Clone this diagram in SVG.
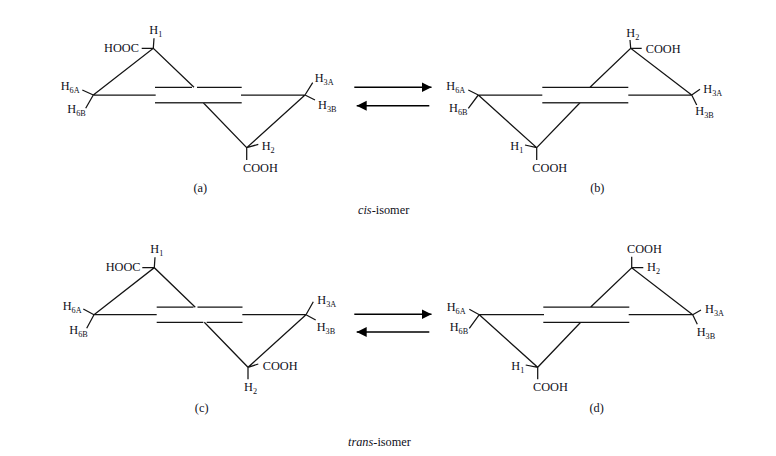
<svg xmlns="http://www.w3.org/2000/svg" width="776" height="456" viewBox="0 0 776 456">
<style>
text{font-family:"Liberation Serif","Times New Roman",serif;font-size:12.3px;fill:#10101a}
.s{font-size:8.2px}
.c{text-anchor:middle}
path{fill:none;stroke:#141414;stroke-width:1.25}
.d{stroke:#333;stroke-width:1.5}
.a{stroke:#000;stroke-width:1.5}
.h{fill:#000;stroke:none}
</style>
<defs>
<marker id="ah" markerUnits="userSpaceOnUse" markerWidth="11" markerHeight="11" refX="10" refY="5.500" orient="auto-start-reverse"><path class="h" d="M0 0.500L10 5.500L0 10.500L0 0.500Z"/></marker>
</defs>
<rect width="776" height="456" fill="#fff"/>
<g id="isomer-a">
<path d="M93.3 95L153.3 48.3L194 87.3M203.3 102.7L246.7 147.7L305 95M93.3 95H155.7M241 95H305M155 87.3H192M197 87.3H241.7M153.3 48.3L154 38.3M153.3 48.3H141.7M93.3 95L82.3 90M93.3 95L85.7 108.3M305 95L312.7 82.7M305 95L315 100M246.7 147.7L258.3 144.3M246.7 147.7V160"/>
<path class="d" d="M155 102.7H241.7"/>
<text x="104" y="52">HOOC</text>
<text x="149.300" y="34">H<tspan class="s" dy="3">1</tspan></text>
<text x="60.700" y="90">H<tspan class="s" dy="3">6A</tspan></text>
<text x="67.300" y="112.500">H<tspan class="s" dy="3">6B</tspan></text>
<text x="314.700" y="82.300">H<tspan class="s" dy="3">3A</tspan></text>
<text x="318" y="109">H<tspan class="s" dy="3">3B</tspan></text>
<text x="261.700" y="150">H<tspan class="s" dy="3">2</tspan></text>
<text x="243" y="172">COOH</text>
<text class="c" x="200.300" y="192">(a)</text>
</g>
<g id="isomer-b">
<path d="M478.300 95L536.700 147.700L580 102.700M590 87.300L630.700 48.300L691.700 95M478.300 95H542.300M628.300 95H691.700M542.300 87.300H628.300M630.700 48.300L630 40M630.700 48.300H641.700M478.300 95L468.300 90M478.300 95L468.300 108.300M691.700 95L700 89.300M691.700 95L696.700 105M536.700 147.700L525 145M536.700 147.700V160"/>
<path class="d" d="M542.300 102.700H628.300"/>
<text x="626.300" y="36.500">H<tspan class="s" dy="3">2</tspan></text>
<text x="645.700" y="52.500">COOH</text>
<text x="446.300" y="90">H<tspan class="s" dy="3">6A</tspan></text>
<text x="449" y="112">H<tspan class="s" dy="3">6B</tspan></text>
<text x="703.300" y="93">H<tspan class="s" dy="3">3A</tspan></text>
<text x="695.300" y="115">H<tspan class="s" dy="3">3B</tspan></text>
<text x="510.300" y="150">H<tspan class="s" dy="3">1</tspan></text>
<text x="532.300" y="172">COOH</text>
<text class="c" x="597.300" y="192">(b)</text>
</g>
<g id="isomer-c">
<path d="M94 314.700L154.300 267.700L195.300 307.300M204.300 322.300L248 367.300L306 314.700M94 314.700H156.700M242.300 314.700H306M156.700 307H193.500M197.500 307H242.500M156.700 322.300H203.300M206.700 322.300H242.500M154.300 267.700L155 257.300M154.300 267.700H142.300M94 314.700L83.300 309M94 314.700L86.700 328.300M306 314.700L313.300 301.700M306 314.700L315.700 320M248 367.300L258.300 364M248 367.300V379.300"/>
<text x="105.700" y="271">HOOC</text>
<text x="150.300" y="253.300">H<tspan class="s" dy="3">1</tspan></text>
<text x="62.700" y="310">H<tspan class="s" dy="3">6A</tspan></text>
<text x="69.300" y="334">H<tspan class="s" dy="3">6B</tspan></text>
<text x="317.300" y="304">H<tspan class="s" dy="3">3A</tspan></text>
<text x="316.700" y="331">H<tspan class="s" dy="3">3B</tspan></text>
<text x="262.700" y="370">COOH</text>
<text x="244" y="390.500">H<tspan class="s" dy="3">2</tspan></text>
<text class="c" x="201.700" y="412">(c)</text>
</g>
<g id="isomer-d">
<path d="M479.300 314.700L537.700 367.300L580.700 322.300M590.700 307L631.700 267.700L692.700 314.700M479.300 314.700H544M628.700 314.700H692.700M543.300 307H629.300M543.300 322.300H629.300M631.700 267.700V256.700M631.700 267.700H643.300M479.300 314.700L469.300 309.300M479.300 314.700L469.300 328.300M692.700 314.700L701 310M692.700 314.700L697.300 324.300M537.700 367.300L525.700 365M537.700 367.300V379.300"/>
<text x="627" y="252.700">COOH</text>
<text x="647" y="271">H<tspan class="s" dy="3">2</tspan></text>
<text x="446.700" y="311">H<tspan class="s" dy="3">6A</tspan></text>
<text x="449.700" y="331">H<tspan class="s" dy="3">6B</tspan></text>
<text x="705" y="313">H<tspan class="s" dy="3">3A</tspan></text>
<text x="696.700" y="336">H<tspan class="s" dy="3">3B</tspan></text>
<text x="511.300" y="370">H<tspan class="s" dy="3">1</tspan></text>
<text x="533" y="390.500">COOH</text>
<text class="c" x="596.700" y="412">(d)</text>
</g>
<g id="connectors">
<path class="a" marker-end="url(#ah)" d="M354.300 87.300H431.500"/>
<path class="a" marker-end="url(#ah)" d="M429.300 105.700H356.700"/>
<path class="a" marker-end="url(#ah)" d="M354.300 314.300H431.500"/>
<path class="a" marker-end="url(#ah)" d="M429.300 332H356.700"/>
</g>
<text x="358" y="214"><tspan font-style="italic">cis</tspan>-isomer</text>
<text x="348" y="445.500"><tspan font-style="italic">trans</tspan>-isomer</text>
</svg>
